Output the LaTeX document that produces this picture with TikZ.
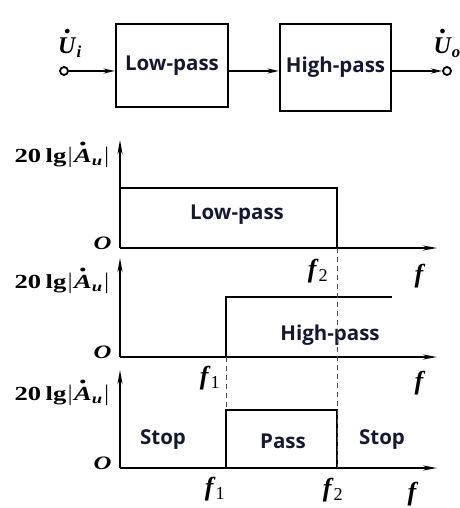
\documentclass[tikz,border=0pt]{standalone}
\usepackage{fontspec}
\usepackage{graphicx}
\usepackage{amsmath}
\setmainfont{Liberation Serif}
\setsansfont{Open Sans}
\usepackage{tikz}
\usetikzlibrary{arrows.meta,positioning,calc}
\definecolor{navytext}{RGB}{22,24,50}
\newcommand{\phasor}[1]{\overset{\raisebox{-1.5pt}{$\scriptscriptstyle\bullet$}}{\textbf{\textit{#1}}}}
\newcommand{\gainlabel}{\scalebox{1.33}[1]{\textbf{20\,lg}$|\phasor{A}_{\textbf{\textit{u}}}|$}}
\newcommand{\freq}[1]{\textbf{\textit{f}}$_{\textup{#1}}$}

\begin{document}
\begin{tikzpicture}[
  x=1pt, y=-1pt,
  box/.style={draw, line width=2.5pt, minimum width=112pt, minimum height=83pt, font=\sffamily\bfseries\fontsize{20.5}{22}\selectfont, text=navytext},
  terminal/.style={circle, draw, line width=1.8pt, fill=white, inner sep=0pt, minimum size=8pt},
  arrow/.style={-{Stealth[length=11pt,width=5pt]}, line width=2pt},
  axis/.style={-{Stealth[length=14pt,width=5pt]}, line width=2pt},
  curve/.style={line width=2.5pt},
  guide/.style={dash pattern=on 5pt off 4pt, line width=0.8pt, gray!60!black},
  band/.style={font=\sffamily\bfseries\fontsize{20.5}{22}\selectfont, text=navytext},
  gain/.style={anchor=base east, font=\fontsize{20}{22}\selectfont},
  origin/.style={anchor=east, font=\fontsize{19}{20}\selectfont\bfseries\itshape},
  flab/.style={font=\fontsize{26}{28}\selectfont}
]
\useasboundingbox (0,0) rectangle (459,508);

% block diagram
\node[terminal] (in) at (64,71) {};
\node[box] (lowpass) at (172,65.5) {Low-pass};
\node[box, minimum width=111pt, minimum height=87pt] (highpass) at (335.5,67.5) {High-pass};
\node[terminal] (out) at (447,71) {};
\node[font=\fontsize{24}{26}\selectfont] (ui) at (70,42) {$\phasor{U}_{\textbf{\textit{i}}}$};
\node[font=\fontsize{24}{26}\selectfont, anchor=west] (uo) at (430,42) {$\phasor{U}_{\textbf{\textit{o}}}$};

\draw[arrow] (in) -- (in -| lowpass.west);
\draw[arrow] (lowpass.east |- in) -- (in -| highpass.west);
\draw[arrow] (highpass.east |- in) -- (out);

% axes of the three plots
\foreach \oy/\ty/\gy/\g in {248/140/162/1, 357/258/288/2, 468/370/400/3} {
  \coordinate (o\g) at (120,\oy);
  \coordinate (ytop\g) at (120,\ty);
  \coordinate (xend\g) at (437,\oy);
  \draw[axis] (o\g) -- (ytop\g);
  \draw[axis] (o\g) -- (xend\g);
  \node[gain] (gain\g) at (114,\gy) {\gainlabel};
  \node[origin] (origin\g) at (115,\oy-5) {\scalebox{1.3}[1]{O}};
}

% cut-off frequencies
\coordinate (f1) at (226,0);
\coordinate (f2) at (337,0);

% low-pass response
\draw[curve] (o1 |- 0,188) -- (f2 |- 0,188) -- (f2 |- o1);
\node[band] (lptext) at (237,215) {Low-pass};

% high-pass response
\draw[curve] (f1 |- o2) -- (f1 |- 0,297) -- (392,297);
\node[band] (hptext) at (330,335) {High-pass};

% band-pass response
\draw[curve] (f1 |- o3) -- (f1 |- 0,410) -- (f2 |- 0,410) -- (f2 |- o3);
\node[band] (stopleft) at (163,440) {Stop};
\node[band] (passmid) at (283,441) {Pass};
\node[band] (stopright) at (382,440) {Stop};

% dashed guides
\draw[guide] (f2 |- o1) -- (f2 |- o3);
\draw[guide] (f1 |- o2) -- (f1 |- 0,410);

% frequency labels
\node[flab] (f2a) at (318,271) {\freq{2}};
\node[flab] (fa) at (420,276) {\textbf{\textit{f}}};
\node[flab] (f1b) at (210,378) {\freq{1}};
\node[flab] (fb) at (420,383) {\textbf{\textit{f}}};
\node[flab] (f1c) at (215,489) {\freq{1}};
\node[flab] (f2c) at (333,490) {\freq{2}};
\node[flab] (fc) at (413,494) {\textbf{\textit{f}}};

\end{tikzpicture}
\end{document}
